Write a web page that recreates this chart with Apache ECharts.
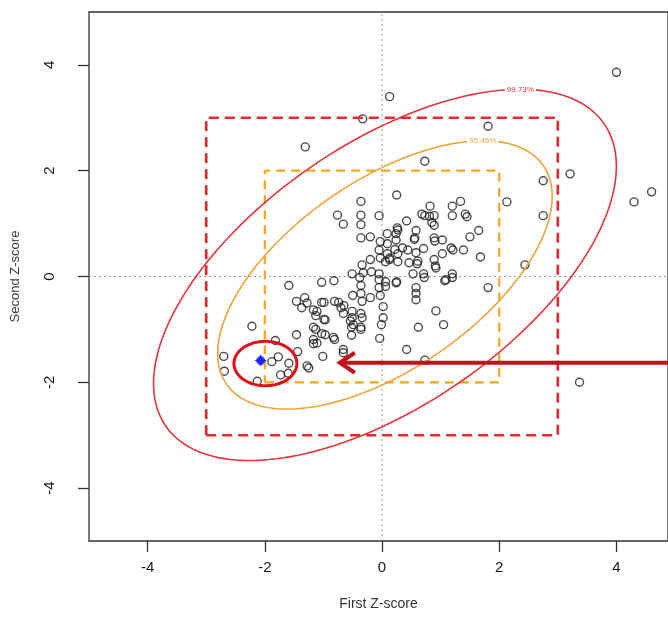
<!DOCTYPE html>
<html>
<head>
<meta charset="utf-8">
<script src="https://cdn.jsdelivr.net/npm/echarts@6/dist/echarts.min.js"></script>
<style>
  html, body { margin: 0; padding: 0; background: #fff; }
  #chart { width: 668px; height: 624px; }
</style>
</head>
<body>
<div id="chart"></div>
<script>
// ---- data ----
const X_TICKS = [-4, -2, 0, 2, 4];
const Y_TICKS = [-4, -2, 0, 2, 4];

// (first z-score, second z-score)
const POINTS = [
  [4.00,3.86],[0.13,3.40],[-0.33,2.98],[1.81,2.84],[-1.31,2.45],[0.73,2.18],[3.21,1.94],[2.75,1.81],
  [4.60,1.60],[4.30,1.41],[2.13,1.41],[2.75,1.15],[2.44,0.22],[3.37,-2.00],[1.81,-0.21],[1.68,0.37],
  [1.65,0.87],[1.50,0.75],
  [0.25,1.54],[-0.36,1.42],[1.34,1.42],[0.82,1.33],[1.20,1.33],
  [-0.76,1.16],[-0.36,1.16],[-0.05,1.15],[0.68,1.18],[0.73,1.15],[0.89,1.15],[1.20,1.15],[1.42,1.18],[1.45,1.13],
  [-0.66,0.99],[-0.36,0.98],[0.42,1.05],[0.26,0.92],[0.58,0.87],[0.85,1.02],[0.89,0.97],[-0.36,0.73],
  [-0.20,0.75],[0.09,0.81],[0.24,0.81],[0.27,0.88],[0.81,1.14],[0.55,0.70],
  [-0.03,0.66],[0.09,0.62],[0.24,0.69],[0.35,0.54],[0.56,0.73],[0.71,0.53],[0.89,0.73],[0.90,0.67],
  [1.03,0.69],[1.18,0.54],[1.39,0.50],[1.21,0.50],[-0.05,0.50],[0.09,0.43],[0.27,0.43],[0.44,0.50],
  [0.22,0.51],[0.13,0.35],[0.58,0.45],[0.61,0.29],[0.92,0.16],
  [-0.20,0.32],[-0.03,0.35],[0.06,0.28],[0.13,0.32],[0.27,0.28],[0.46,0.26],[0.60,0.24],[0.89,0.32],
  [0.91,0.20],[1.03,0.43],[-0.34,0.22],[-0.51,0.05],[-0.32,0.07],[-0.18,0.09],[-0.05,0.05],
  [-0.38,-0.02],[-0.05,-0.06],[0.06,-0.10],[0.25,-0.10],[0.53,0.05],[0.71,0.05],[0.72,-0.02],[1.20,0.05],
  [1.07,-0.08],[1.20,-0.02],[-1.03,-0.11],[-0.82,-0.08],[-0.36,-0.17],[-0.05,-0.21],[0.06,-0.19],
  [-1.59,-0.17],[0.58,-0.21],[1.09,-0.06],[0.24,-0.12],
  [-1.46,-0.47],[-1.32,-0.40],[-1.28,-0.50],[-1.03,-0.49],[-0.99,-0.49],[-0.81,-0.47],[-0.74,-0.49],
  [-0.65,-0.55],[-0.50,-0.36],[-0.36,-0.32],[-0.34,-0.47],[-0.20,-0.40],[-0.03,-0.36],[0.58,-0.32],
  [0.58,-0.44],[0.02,-0.57],
  [-1.37,-0.59],[-1.17,-0.63],[-1.13,-0.74],[-0.70,-0.59],[-0.66,-0.70],[-0.51,-0.66],[-0.36,-0.70],
  [-0.34,-0.78],[-0.51,-0.78],[-0.54,-0.84],[0.92,-0.65],[0.02,-0.78],[-1.11,-0.66],[-0.97,-0.82],
  [-0.99,-0.81],[-1.13,-1.00],[-1.17,-0.96],[-0.52,-0.96],[-0.36,-0.96],[-0.36,-1.00],[-0.01,-0.91],
  [1.05,-0.91],[0.62,-0.96],[-1.46,-1.10],[-1.03,-1.08],[-2.22,-0.94],[-1.17,-1.19],[-0.83,-1.15],
  [-0.81,-1.19],[-0.52,-1.11],[-0.04,-1.17],[-1.11,-1.26],[-0.97,-1.10],[-0.49,-0.91],
  [-1.82,-1.21],[-1.17,-1.27],[-0.66,-1.38],[-0.66,-1.44],[0.42,-1.38],[-1.44,-1.42],[-1.01,-1.51],
  [-1.28,-1.69],[-1.25,-1.73],[-1.59,-1.64],[-1.77,-1.52],[-1.88,-1.61],[-2.70,-1.51],[-2.69,-1.79],
  [-1.73,-1.86],[-1.60,-1.83],[-2.13,-1.98],[0.73,-1.58]
];

const TARGET = [[-2.07, -1.59]];

const RECT_OUTER = [-3, -3, 3, 3];
const RECT_INNER = [-2, -2, 2, 2];

// confidence ellipses: centre, sd of each score, correlation, radius per level
const ELLIPSE_CENTER = [0.05, 0.03];
const ELLIPSE_SD = [1.148, 1.02];
const ELLIPSE_RHO = 0.585;
const ELLIPSE_LEVELS = ['99.73%', '95.45%'];
const ELLIPSE_RADII = [3.44, 2.486];

const HIGHLIGHT_CENTER = [-1.99, -1.645];
const HIGHLIGHT_RADII = [0.537, 0.42];

const ARROW_FROM = [5.2, -1.63];
const ARROW_TO = [-0.72, -1.63];

const CROSS_V = [[0, -5], [0, 5]];
const CROSS_H = [[-5, 0], [5, 0]];

// ---- helpers ----
function rectPath(b) {
  return [[b[0], b[1]], [b[2], b[1]], [b[2], b[3]], [b[0], b[3]], [b[0], b[1]]];
}

function ellipsePixels(api, k) {
  const pts = [];
  const s = Math.sqrt(1 - ELLIPSE_RHO * ELLIPSE_RHO);
  for (let i = 0; i <= 180; i++) {
    const t = i / 180 * Math.PI * 2;
    const x = ELLIPSE_CENTER[0] + k * ELLIPSE_SD[0] * Math.cos(t);
    const y = ELLIPSE_CENTER[1] + k * ELLIPSE_SD[1] * (ELLIPSE_RHO * Math.cos(t) + s * Math.sin(t));
    pts.push(api.coord([x, y]));
  }
  return pts;
}

const ELLIPSE_COLORS = ['#e8343c', '#f2a33a'];

const chart = echarts.init(document.getElementById('chart'), null, { renderer: 'canvas' });

const lineBase = { type: 'line', symbol: 'none', silent: true, animation: false };

chart.setOption({
  backgroundColor: '#fff',
  animation: false,
  grid: {
    left: 89, top: 12, right: -4, bottom: 83,
    show: true, borderColor: '#333', borderWidth: 1.3
  },
  xAxis: {
    type: 'value', min: -5, max: 4.88,
    name: 'First Z-score', nameLocation: 'middle', nameGap: 56,
    nameTextStyle: { fontFamily: 'Liberation Sans', fontSize: 14, color: '#333' },
    axisLine: { show: false, onZero: false },
    axisTick: { show: true, customValues: X_TICKS, length: 11, lineStyle: { color: '#333', width: 1.3 } },
    axisLabel: { customValues: X_TICKS, margin: 19, fontFamily: 'Liberation Sans', fontSize: 15, color: '#1a1a1a' },
    splitLine: { show: false }
  },
  yAxis: {
    type: 'value', min: -5, max: 5,
    name: 'Second Z-score', nameLocation: 'middle', nameGap: 67,
    nameTextStyle: { fontFamily: 'Liberation Sans', fontSize: 13, color: '#3a3a48' },
    axisLine: { show: false, onZero: false },
    axisTick: { show: true, customValues: Y_TICKS, length: 11, lineStyle: { color: '#333', width: 1.3 } },
    axisLabel: { customValues: Y_TICKS, rotate: 90, margin: 32, fontFamily: 'Liberation Sans', fontSize: 15, color: '#1a1a1a' },
    splitLine: { show: false }
  },
  series: [
    Object.assign({}, lineBase, { data: CROSS_V, z: 1, lineStyle: { color: '#999', width: 1, type: [2, 3] } }),
    Object.assign({}, lineBase, { data: CROSS_H, z: 1, lineStyle: { color: '#999', width: 1, type: [2, 3] } }),
    {
      type: 'scatter', data: POINTS, symbol: 'circle', symbolSize: 8, z: 2, silent: true,
      itemStyle: { color: 'rgba(0,0,0,0)', borderColor: '#1e1e1e', borderWidth: 1.4 }
    },
    Object.assign({}, lineBase, { data: rectPath(RECT_OUTER), z: 3, lineStyle: { color: '#e8262c', width: 2.6, type: [10, 6] } }),
    Object.assign({}, lineBase, { data: rectPath(RECT_INNER), z: 3, lineStyle: { color: '#f5a623', width: 2.2, type: [9, 6] } }),
    {
      type: 'custom', data: [[0]], z: 4, silent: true,
      renderItem: function (params, api) {
        const children = [];
        ELLIPSE_RADII.forEach(function (k, i) {
          children.push({
            type: 'polyline', shape: { points: ellipsePixels(api, k) },
            style: { stroke: ELLIPSE_COLORS[i], lineWidth: 1.6, fill: null }
          });
          const top = api.coord([
            ELLIPSE_CENTER[0] + k * ELLIPSE_SD[0] * ELLIPSE_RHO,
            ELLIPSE_CENTER[1] + k * ELLIPSE_SD[1]
          ]);
          children.push({
            type: 'text', z2: 10,
            style: {
              text: ELLIPSE_LEVELS[i], x: top[0], y: top[1], align: 'center', verticalAlign: 'middle',
              fill: ELLIPSE_COLORS[i], font: '8px Liberation Sans', backgroundColor: '#fff', padding: [1, 2]
            }
          });
        });
        // highlight ring around the target
        const hp = [];
        for (let i = 0; i <= 90; i++) {
          const t = i / 90 * Math.PI * 2;
          hp.push(api.coord([
            HIGHLIGHT_CENTER[0] + HIGHLIGHT_RADII[0] * Math.cos(t),
            HIGHLIGHT_CENTER[1] + HIGHLIGHT_RADII[1] * Math.sin(t)
          ]));
        }
        children.push({ type: 'polyline', shape: { points: hp }, style: { stroke: '#e01018', lineWidth: 3, fill: null } });
        // arrow
        const a = api.coord(ARROW_FROM), b = api.coord(ARROW_TO);
        children.push({ type: 'line', shape: { x1: a[0], y1: a[1], x2: b[0] + 2, y2: b[1] }, style: { stroke: '#c0121a', lineWidth: 4 } });
        children.push({
          type: 'polyline',
          shape: { points: [[b[0] + 15, b[1] - 10], [b[0], b[1]], [b[0] + 15, b[1] + 10]] },
          style: { stroke: '#c0121a', lineWidth: 4, fill: null, lineJoin: 'miter' }
        });
        return { type: 'group', children: children };
      }
    },
    {
      type: 'scatter', data: TARGET, z: 5, silent: true,
      symbol: 'path://M0,-10 L3,-3 L10,0 L3,3 L0,10 L-3,3 L-10,0 L-3,-3 Z',
      symbolSize: 13, itemStyle: { color: '#1a1aff' }
    },
    {
      type: 'scatter', data: TARGET, z: 5, silent: true,
      symbol: 'circle', symbolSize: 9, itemStyle: { color: '#1a1aff' }
    }
  ]
});
</script>
</body>
</html>
